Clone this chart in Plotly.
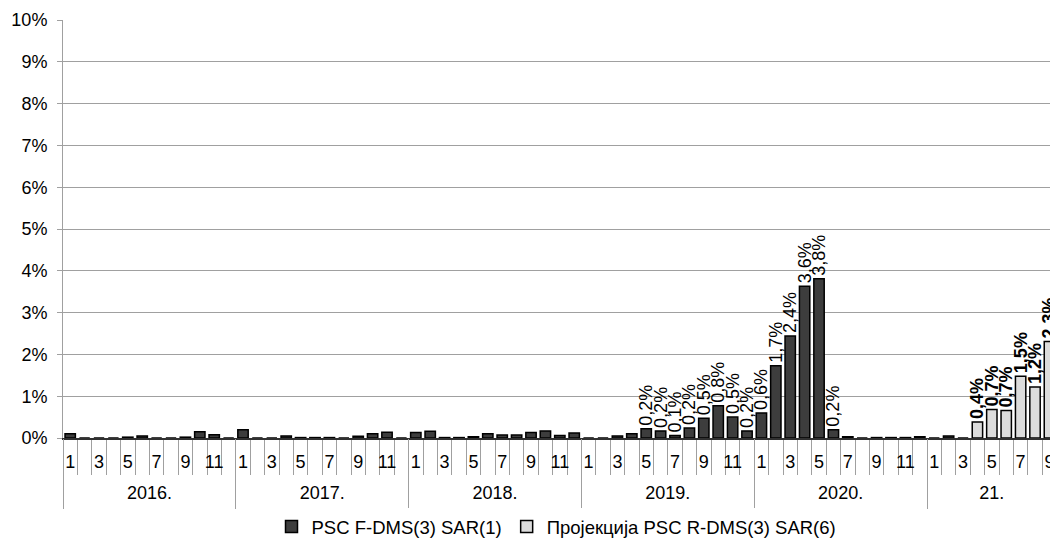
import plotly.graph_objects as go

# ---------------- data ----------------
years = ["2016.", "2017.", "2018.", "2019.", "2020.", "21."]
months_per_year = [12, 12, 12, 12, 12, 9]
month_labels = ["1", "", "3", "", "5", "", "7", "", "9", "", "11", ""]

# PSC F-DMS(3) SAR(1), %  (Jan 2016 - Mar 2021)
actual_2016 = [0.10, 0.00, 0.00, 0.00, 0.02, 0.05, 0.00, 0.00, 0.02, 0.15, 0.08, 0.00]
actual_2017 = [0.20, 0.00, 0.00, 0.05, 0.01, 0.01, 0.01, 0.00, 0.04, 0.10, 0.14, 0.00]
actual_2018 = [0.13, 0.16, 0.01, 0.01, 0.03, 0.10, 0.07, 0.07, 0.13, 0.17, 0.06, 0.12]
actual_2019 = [0.00, 0.00, 0.05, 0.10, 0.22, 0.17, 0.06, 0.24, 0.47, 0.77, 0.50, 0.17]
actual_2020 = [0.60, 1.73, 2.44, 3.63, 3.81, 0.20, 0.03, 0.00, 0.01, 0.01, 0.01, 0.03]
actual_2021 = [0.00, 0.05, 0.00]
actual = actual_2016 + actual_2017 + actual_2018 + actual_2019 + actual_2020 + actual_2021

# Пројекција PSC R-DMS(3) SAR(6), %  (Apr 2021 - Sep 2021)
projection = [0.38, 0.68, 0.66, 1.48, 1.22, 2.31]

# months of the actual series that carry a value label (May 2019 - Jun 2020)
label_from = ("2019.", 5)
label_to = ("2020.", 6)

# ---------------- derived ----------------
n_total = sum(months_per_year)
x_actual = list(range(len(actual)))
x_proj = list(range(len(actual), len(actual) + len(projection)))

tick_text = []
year_centers = []
year_bounds = []
start = 0
for cnt in months_per_year:
    tick_text += month_labels[:cnt]
    year_centers.append(start + (cnt - 1) / 2)
    year_bounds.append(start - 0.5)
    start += cnt


def idx(year, month):
    return years.index(year) * 12 + month - 1


def fmt(v):
    return ("%.1f%%" % v).replace(".", ",")


i0, i1 = idx(*label_from), idx(*label_to)
actual_text = [fmt(v) if i0 <= i <= i1 else "" for i, v in enumerate(actual)]
proj_text = ["<b>" + fmt(v) + "</b>" for v in projection]

FONT = "Liberation Sans, Arial, sans-serif"

fig = go.Figure()
fig.add_trace(go.Bar(
    x=x_actual, y=[v / 100 for v in actual],
    name="PSC F-DMS(3) SAR(1)",
    marker=dict(color="#3d3d3d", line=dict(color="#000000", width=1.5)),
    width=0.72,
    text=actual_text, textposition="outside", textangle=-90,
    constraintext="none", cliponaxis=False,
    textfont=dict(size=18, color="#000000", family=FONT),
))
fig.add_trace(go.Bar(
    x=x_proj, y=[v / 100 for v in projection],
    name="Пројекција PSC R-DMS(3) SAR(6)",
    marker=dict(color="#dcdcdc", line=dict(color="#000000", width=1.5)),
    width=0.72,
    text=proj_text, textposition="outside", textangle=-90,
    constraintext="none", cliponaxis=False,
    textfont=dict(size=18, color="#000000", family=FONT),
))
# invisible helper trace for the year axis
fig.add_trace(go.Scatter(x=[year_centers[0]], y=[0], xaxis="x2", mode="markers",
                         marker=dict(opacity=0), showlegend=False, hoverinfo="skip"))

x_range = [-0.5, 68.04]

fig.update_layout(
    width=1050, height=546,
    margin=dict(l=63, r=0, t=20, b=108, autoexpand=False),
    paper_bgcolor="white", plot_bgcolor="white",
    font=dict(family=FONT, size=18, color="#000000"),
    barmode="overlay",
    showlegend=True,
    legend=dict(orientation="h", x=0.5, xanchor="center", y=-0.213, yanchor="middle",
                font=dict(size=18.5), itemwidth=30, traceorder="normal"),
    xaxis=dict(
        type="linear", range=x_range, automargin=False,
        tickmode="array", tickvals=list(range(n_total)), ticktext=tick_text,
        ticks="", showgrid=False, zeroline=False,
        showline=True, linecolor="#303030", linewidth=1.5,
        tickfont=dict(size=18), ticklabelstandoff=7, ticklabeloverflow="allow",
        minor=dict(tickmode="array", tickvals=[i - 0.5 for i in range(n_total + 1)],
                   ticks="outside", ticklen=35, tickcolor="#a0a0a0", tickwidth=1,
                   showgrid=False),
    ),
    xaxis2=dict(
        overlaying="x", anchor="y", side="bottom", type="linear", range=x_range,
        automargin=False,
        tickmode="array", tickvals=year_centers, ticktext=years,
        ticks="", showgrid=False, zeroline=False, showline=False,
        tickfont=dict(size=18), ticklabelstandoff=42,
        minor=dict(tickmode="array", tickvals=year_bounds,
                   ticks="outside", ticklen=70, tickcolor="#a0a0a0", tickwidth=1,
                   showgrid=False),
    ),
    yaxis=dict(
        range=[0, 0.10], tickmode="linear", tick0=0, dtick=0.01, tickformat=".0%",
        automargin=False,
        showgrid=True, gridcolor="#a0a0a0", gridwidth=1, zeroline=False,
        showline=True, linecolor="#a0a0a0", linewidth=1,
        ticks="outside", ticklen=5, tickcolor="#a0a0a0",
        tickfont=dict(size=18), ticklabelstandoff=6,
    ),
)

fig.write_html("out.html")
